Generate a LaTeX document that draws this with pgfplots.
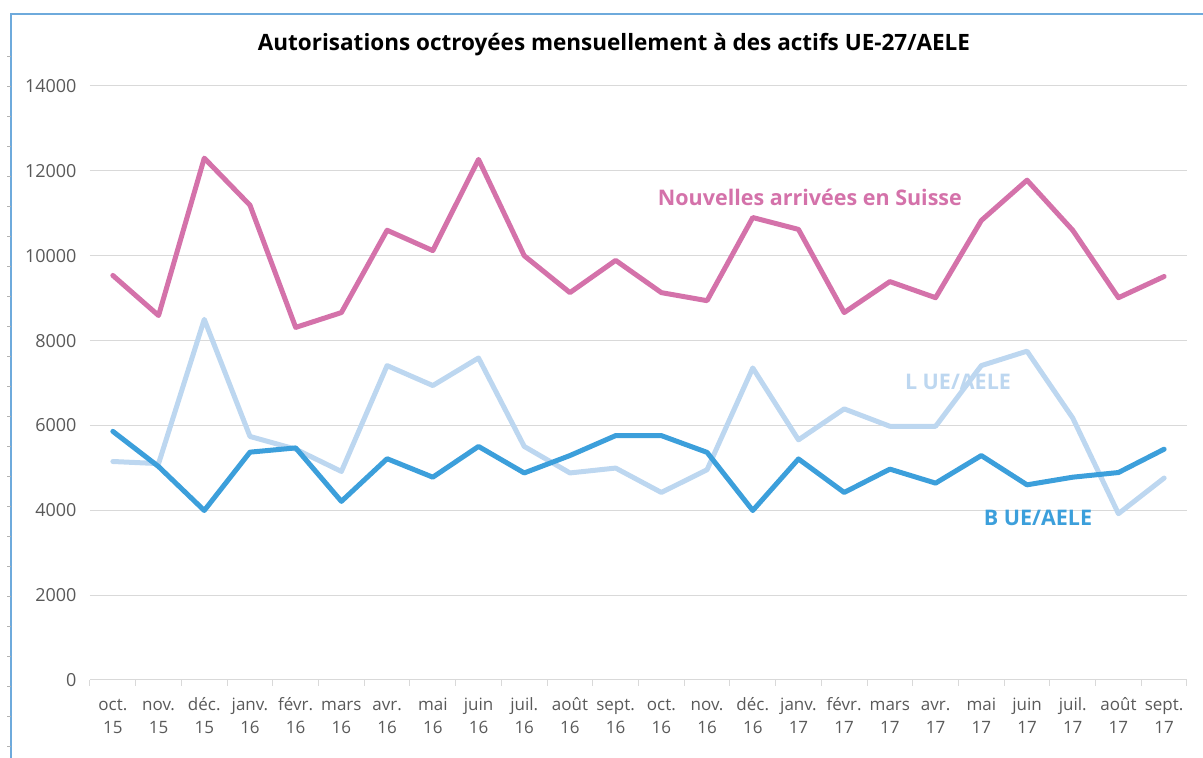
\documentclass[border=0pt]{standalone}
\usepackage{pgfplots}
\pgfplotsset{compat=1.18}
\usepackage{fontspec}
\setmainfont{Open Sans}
\definecolor{pinkc}{RGB}{212,114,170}
\definecolor{lightb}{RGB}{189,215,240}
\definecolor{darkb}{RGB}{60,159,219}
\definecolor{gridc}{RGB}{217,217,217}
\definecolor{tickc}{RGB}{89,89,89}
\definecolor{framec}{RGB}{110,170,220}
\begin{document}
\begin{tikzpicture}[x=1pt,y=1pt]
\useasboundingbox (0,0) rectangle (1203,758);
% frame of the chart area
\draw[framec, line width=1.2pt] (11,0) -- (11,744) -- (1203,744);
\foreach \yy in {12,42,...,720} \draw[gray!60, line width=0.8pt] (7,\yy) -- (11,\yy);
\node[font=\bfseries\fontsize{22.5}{26}\selectfont, anchor=center] at (614,713) {Autorisations octroyées mensuellement à des actifs UE-27/AELE};
\begin{axis}[
  at={(90pt,78pt)}, anchor=south west,
  scale only axis, width=1097pt, height=594pt,
  xmin=-0.5, xmax=23.5, ymin=0, ymax=14000,
  axis x line*=bottom, axis y line*=left,
  x axis line style={gridc, line width=1pt, -},
  y axis line style={draw=none},
  xtick={-0.5,0.5,...,23.5},
  xticklabels={},
  x tick style={draw=gridc, line width=1pt},
  xtick align=outside,
  major tick length=6pt,
  extra x ticks={0,...,23},
  extra x tick labels={{oct.\\15},{nov.\\15},{déc.\\15},{janv.\\16},{févr.\\16},{mars\\16},{avr.\\16},{mai\\16},{juin\\16},{juil.\\16},{août\\16},{sept.\\16},{oct.\\16},{nov.\\16},{déc.\\16},{janv.\\17},{févr.\\17},{mars\\17},{avr.\\17},{mai\\17},{juin\\17},{juil.\\17},{août\\17},{sept.\\17}},
  extra x tick style={major tick length=0pt, grid=none,
    xticklabel style={align=center, text=tickc, font=\fontsize{17}{23}\selectfont, yshift=-37pt, text height=13pt}},
  ytick={0,2000,...,14000},
  scaled y ticks=false,
  ytick style={draw=none},
  ymajorgrids, grid style={gridc, line width=1pt},
  yticklabel style={text=tickc, font=\fontsize{18}{22}\selectfont, anchor=east, xshift=-10pt},
  /pgf/number format/assume math mode=true,
  /pgf/number format/1000 sep={},
  clip=false,
  every axis plot/.append style={line width=5pt, line join=round, line cap=round},
]
\addplot[lightb] coordinates {(0,5150)(1,5100)(2,8500)(3,5740)(4,5440)(5,4915)(6,7410)(7,6940)(8,7590)(9,5505)(10,4880)(11,4995)(12,4420)(13,4955)(14,7355)(15,5660)(16,6390)(17,5980)(18,5980)(19,7410)(20,7750)(21,6175)(22,3920)(23,4760)};
\addplot[darkb] coordinates {(0,5860)(1,5030)(2,3995)(3,5370)(4,5470)(5,4210)(6,5215)(7,4780)(8,5505)(9,4880)(10,5290)(11,5760)(12,5760)(13,5365)(14,3995)(15,5210)(16,4420)(17,4970)(18,4640)(19,5290)(20,4600)(21,4780)(22,4890)(23,5440)};
\addplot[pinkc] coordinates {(0,9535)(1,8590)(2,12300)(3,11190)(4,8310)(5,8660)(6,10600)(7,10120)(8,12270)(9,10000)(10,9130)(11,9890)(12,9130)(13,8940)(14,10900)(15,10620)(16,8660)(17,9390)(18,9010)(19,10830)(20,11780)(21,10600)(22,9010)(23,9510)};
\node[text=pinkc, font=\bfseries\fontsize{21.5}{24}\selectfont] at (axis cs:15.25,11375) {Nouvelles arrivées en Suisse};
\node[text=lightb, font=\bfseries\fontsize{21.5}{24}\selectfont] at (axis cs:18.49,7030) {L UE/AELE};
\node[text=darkb, font=\bfseries\fontsize{21.5}{24}\selectfont] at (axis cs:20.24,3820) {B UE/AELE};
\end{axis}
\end{tikzpicture}
\end{document}
